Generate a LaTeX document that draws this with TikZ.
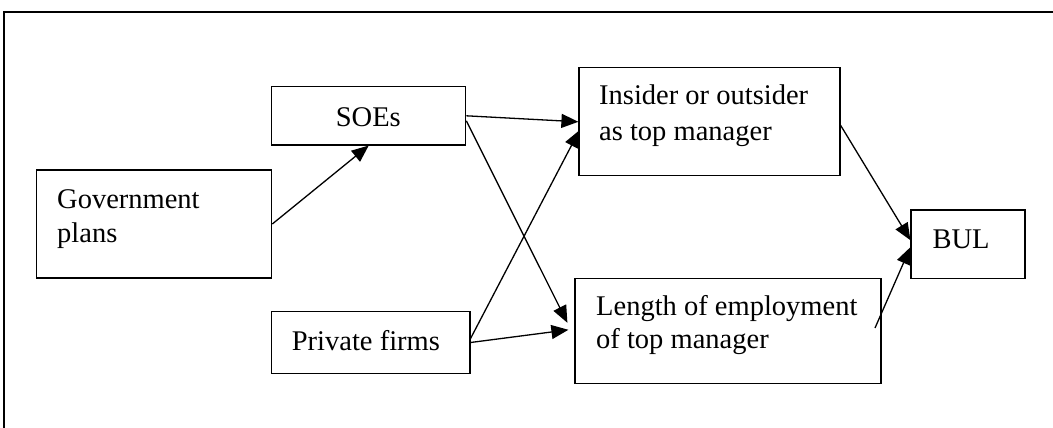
\documentclass[tikz,border=0pt]{standalone}
\usepackage{fontspec}
\setmainfont{Liberation Serif}
\usetikzlibrary{arrows.meta}
\begin{document}
\begin{tikzpicture}[x=1pt,y=-1pt,
  box/.style={draw,line width=1.2pt,rectangle,inner sep=0pt},
  lbl/.style={inner sep=0pt,anchor=base west,font=\fontsize{28.5}{34}\selectfont},
  link/.style={line width=1.3pt,-{Triangle[length=17pt,width=14pt]}}]
\useasboundingbox (0,0) rectangle (1053,428);
% outer frame (top and left edges)
\draw[line width=1.6pt] (4,428) -- (4,12) -- (1053,12);
% boxes
\node[box,minimum width=235pt,minimum height=108pt] (gov) at (154.2,224) {};
\node[box,minimum width=194pt,minimum height=58.3pt] (soe) at (368.7,115.8) {};
\node[box,minimum width=198.3pt,minimum height=61.6pt] (pf) at (370.8,342.5) {};
\node[box,minimum width=261pt,minimum height=108pt] (ins) at (709.5,121.3) {};
\node[box,minimum width=306pt,minimum height=105pt] (len) at (728,330.8) {};
\node[box,minimum width=114pt,minimum height=68.3pt] (bul) at (968,244.2) {};
% texts
\node[lbl] (govA) at (57,208) {Government};
\node[lbl] (govB) at (57,242) {plans};
\node[lbl] (soeT) at (335.7,126) {SOEs};
\node[lbl] (pfT) at (291.7,350) {Private firms};
\node[lbl] (insA) at (599,105) {Insider or outsider};
\node[lbl] (insB) at (599,140) {as top manager};
\node[lbl] (lenA) at (596,315) {Length of employment};
\node[lbl] (lenB) at (596,348.3) {of top manager};
\node[lbl] (bulT) at (932.3,248.3) {BUL};
% free start of the lower arrow into BUL
\coordinate (lenOut) at (875,328);
% connectors
\draw[link] (gov.east) -- (soe.south);
\draw[link] ([yshift=0pt]soe.east) -- ([yshift=-0.5pt]ins.west);
\draw[link] ([yshift=-5pt]soe.east) -- ([xshift=-7pt,yshift=8pt]len.west);
\draw[link] ([yshift=4pt]pf.east) -- ([xshift=1pt,yshift=-9pt]ins.west);
\draw[link] (pf.east) -- ([xshift=-6pt,yshift=1pt]len.west);
\draw[link] ([yshift=-4pt]ins.east) -- ([yshift=4pt]bul.west);
\draw[link] (lenOut) -- ([yshift=-3pt]bul.west);
\end{tikzpicture}
\end{document}
